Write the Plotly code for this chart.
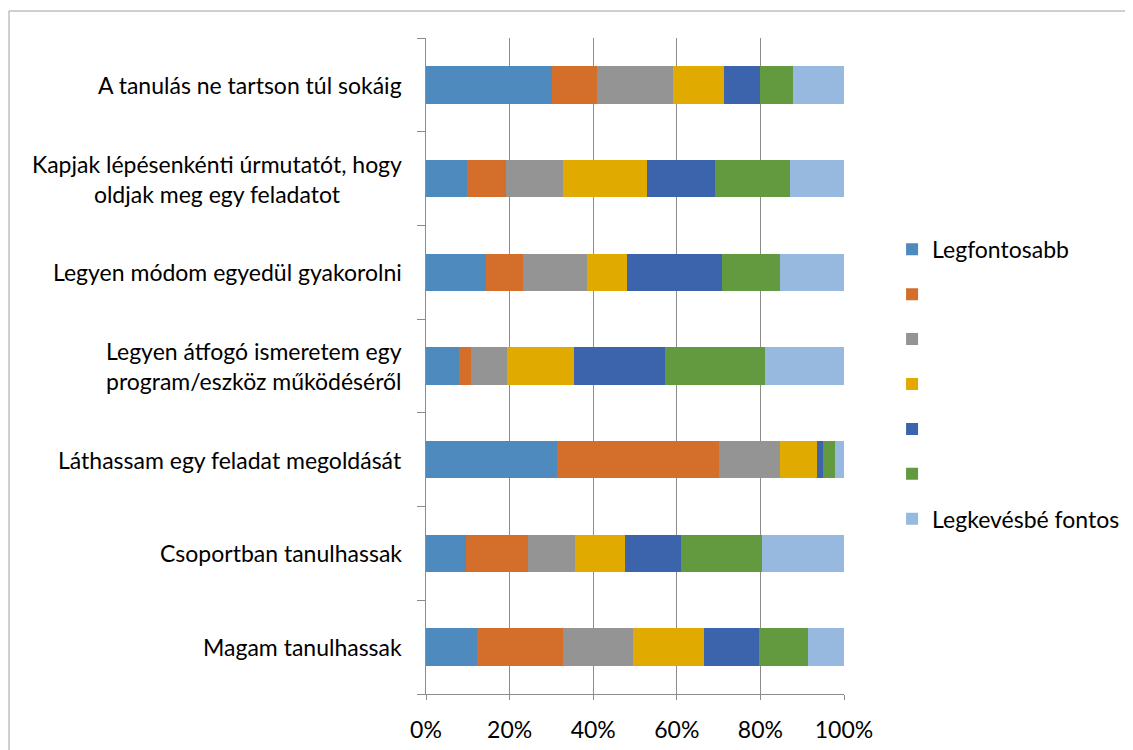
import plotly.graph_objects as go

categories = [
    "A tanulás ne tartson túl sokáig",
    "Kapjak lépésenkénti úrmutatót, hogy<br>oldjak meg egy feladatot",
    "Legyen módom egyedül gyakorolni",
    "Legyen átfogó ismeretem egy<br>program/eszköz működéséről",
    "Láthassam egy feladat megoldását",
    "Csoportban tanulhassak",
    "Magam tanulhassak",
]

series_names = ["Legfontosabb", " ", "  ", "   ", "    ", "     ", "Legkevésbé fontos"]

rank1 = [30.1, 9.7, 14.4, 7.8, 31.3, 9.5, 12.3]
rank2 = [10.7, 9.4, 8.7, 2.9, 38.7, 14.9, 20.4]
rank3 = [18.2, 13.6, 15.4, 8.6, 14.6, 11.2, 16.8]
rank4 = [12.2, 20.1, 9.5, 16.1, 8.9, 12.0, 16.9]
rank5 = [8.6, 16.4, 22.7, 21.7, 1.4, 13.5, 13.2]
rank6 = [8.0, 17.8, 13.9, 24.0, 2.9, 19.4, 11.7]
rank7 = [12.2, 13.0, 15.4, 18.9, 2.2, 19.5, 8.7]

series_values = [rank1, rank2, rank3, rank4, rank5, rank6, rank7]
colors = ["#4F8ABE", "#D36F2B", "#949494", "#E0AA00", "#3C64AD", "#639A3F", "#97B9E0"]

x_ticks = [0, 20, 40, 60, 80, 100]
x_tick_labels = ["0%", "20%", "40%", "60%", "80%", "100%"]

FONT = "Lato"
FS = 23

fig = go.Figure()
for i, (name, vals) in enumerate(zip(series_names, series_values)):
    fig.add_trace(go.Bar(
        y=categories, x=vals, name=name, orientation="h",
        marker=dict(color=colors[i], line=dict(width=0)),
        legendgroup=f"g{i}",
    ))

for c in categories:
    fig.add_annotation(
        x=-0.052, xref="paper", y=c, yref="y", text=c, showarrow=False,
        xanchor="right", yanchor="middle", align="center",
        font=dict(family=FONT, size=FS, color="#000000"),
    )

W, H = 1133, 750
fig.update_layout(
    width=W, height=H,
    margin=dict(l=418, r=W - 418 - 418, t=30, b=H - 686),
    paper_bgcolor="white", plot_bgcolor="white",
    barmode="stack", barnorm="percent", bargap=0.6,
    font=dict(family=FONT, size=FS, color="#000000"),
    legend=dict(
        x=1.115, xanchor="left", y=0.472, yanchor="middle",
        traceorder="grouped", tracegroupgap=12,
        font=dict(family=FONT, size=FS, color="#000000"),
        bgcolor="rgba(0,0,0,0)",
    ),
    xaxis=dict(
        range=[0, 100], tickvals=x_ticks, ticktext=x_tick_labels,
        showgrid=True, gridcolor="#8c8c8c", gridwidth=1,
        showline=True, linecolor="#8c8c8c", linewidth=1,
        ticks="outside", ticklen=5, tickcolor="#8c8c8c",
        ticklabelstandoff=10, zeroline=False,
        tickfont=dict(family=FONT, size=FS, color="#000000"),
    ),
    yaxis=dict(
        categoryorder="array", categoryarray=categories[::-1],
        showticklabels=False,
        showline=True, linecolor="#8c8c8c", linewidth=1,
        ticks="outside", ticklen=8, tickcolor="#8c8c8c", tickson="boundaries",
        showgrid=False,
    ),
    shapes=[dict(
        type="rect", xref="paper", yref="paper",
        x0=(1 - 418) / 418, x1=(1140 - 418) / 418,
        y0=-0.2, y1=(686 - 3) / 656,
        line=dict(color="#a0a0a0", width=1), fillcolor="rgba(0,0,0,0)", layer="below",
    )],
)

fig.write_html("out.html")
